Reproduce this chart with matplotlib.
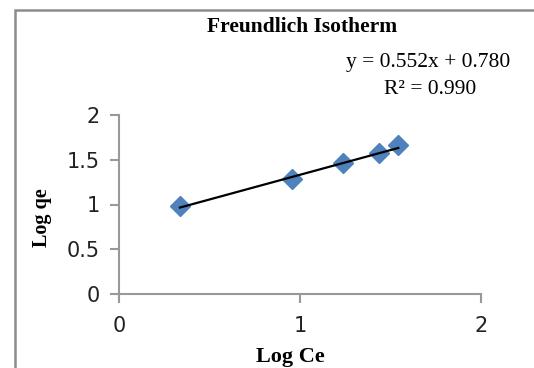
import matplotlib
matplotlib.use("Agg")
import matplotlib.pyplot as plt
from matplotlib.patches import Rectangle
import numpy as np

log_ce = [0.337, 0.956, 1.235, 1.436, 1.543]
log_qe = [0.98, 1.28, 1.46, 1.57, 1.67]
slope, intercept, r2 = 0.552, 0.780, 0.990
x_ticks = [0, 1, 2]
y_ticks = [0, 0.5, 1, 1.5, 2]

W, H = 534, 368
fig = plt.figure(figsize=(W / 100, H / 100), dpi=100)
ax = fig.add_axes([119 / W, 1 - 294 / H, (481 - 119) / W, (294 - 115) / H])

ax.plot(log_ce, log_qe, linestyle="none", marker="D", markersize=10,
        color="#4F81BD", markeredgecolor="#4F81BD", zorder=3)
xl = np.array([log_ce[0], log_ce[-1]])
ax.plot(xl, slope * xl + intercept, color="black", lw=1.6, zorder=4)

ax.set_xlim(0, 2)
ax.set_ylim(0, 2)
ax.set_xticks(x_ticks)
ax.set_yticks(y_ticks)
ax.set_xticklabels([str(t) for t in x_ticks])
ax.set_yticklabels([f"{t:g}" for t in y_ticks])
for s in ["top", "right"]:
    ax.spines[s].set_visible(False)
for s in ["left", "bottom"]:
    ax.spines[s].set_color("#999999")
    ax.spines[s].set_linewidth(1.5)
ax.tick_params(axis="both", direction="out", length=6.5, width=1.5, color="#999999",
               labelsize=15, labelcolor="#222222")
for lab in ax.get_xticklabels() + ax.get_yticklabels():
    lab.set_fontfamily("DejaVu Sans")
ax.tick_params(axis="x", pad=9)
ax.tick_params(axis="y", pad=7)

serif = "Liberation Serif"
fig.text(302 / W, 1 - 27 / H, "Freundlich Isotherm", ha="center", va="center",
         fontsize=15.5, fontweight="bold", family=serif)
fig.text(428 / W, 1 - 63 / H, f"y = {slope:.3f}x + {intercept:.3f}", ha="center",
         va="center", fontsize=15.5, family=serif)
fig.text(430 / W, 1 - 89 / H, f"R² = {r2:.3f}", ha="center", va="center",
         fontsize=15.5, family=serif)
fig.text(42 / W, 1 - 218 / H, "Log qe", ha="center", va="center", rotation=90,
         fontsize=14.5, fontweight="bold", family=serif)
fig.text(290 / W, 1 - 357 / H, "Log Ce", ha="center", va="center",
         fontsize=16, fontweight="bold", family=serif)

fig.patches.append(Rectangle((14.5 / W, -0.1), 1.2, 1.1 - 10.5 / H,
                             transform=fig.transFigure, fill=False,
                             edgecolor="#8c8c8c", lw=1.8))

fig.savefig("out.png", dpi=100)
